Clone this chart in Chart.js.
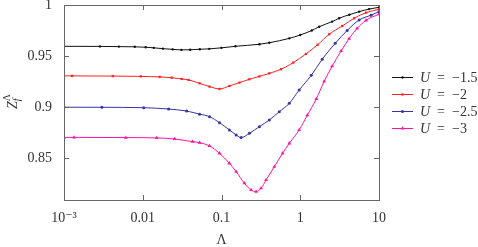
<!DOCTYPE html>
<html>
	<head>
		<title>Z_f vs Lambda</title>
		<style>
body {
	margin: 0;
	background-color: #ffffff;
}
		</style>
	</head>
	<body>
		<canvas id="zChart" width="478" height="247"></canvas>
		<script src="https://cdn.jsdelivr.net/npm/chart.js"></script>
		<script>
			// values
			const xTicks = [0.001, 0.01, 0.1, 1, 10];
			const xTickLabels = ['10\u207B\u00B3', '0.01', '0.1', '1', '10'];
			const yTicks = [0.85, 0.9, 0.95, 1];

			const seriesLabels = ['\u22121.5', '\u22122', '\u22122.5', '\u22123'];

			const lamA = [0.001, 0.00286, 0.00497, 0.00792, 0.0109, 0.0138, 0.018, 0.024, 0.031, 0.04, 0.053, 0.07, 0.1, 0.15, 0.303, 0.405, 0.726, 1.0, 1.4, 1.74, 2.54, 3.12, 4.2, 5.6, 7.5, 10];
			const zA = [0.9595, 0.9594, 0.9592, 0.959, 0.9586, 0.958, 0.9572, 0.9565, 0.956, 0.9561, 0.9566, 0.957, 0.958, 0.9595, 0.9615, 0.963, 0.9673, 0.9706, 0.975, 0.9787, 0.9837, 0.987, 0.9905, 0.9935, 0.996, 0.9977];

			const lamB = [0.001, 0.00126, 0.00417, 0.00944, 0.0164, 0.0233, 0.0312, 0.0382, 0.0527, 0.0705, 0.0944, 0.126, 0.169, 0.226, 0.303, 0.405, 0.57, 0.815, 1.18, 1.66, 2.33, 3.41, 4.83, 6.85, 10];
			const zB = [0.9305, 0.9305, 0.9303, 0.93, 0.9295, 0.9287, 0.9275, 0.9265, 0.9232, 0.92, 0.9177, 0.9206, 0.9239, 0.9272, 0.93, 0.933, 0.937, 0.9435, 0.952, 0.961, 0.9713, 0.9794, 0.987, 0.9925, 0.9958];

			const lamC = [0.001, 0.00303, 0.0103, 0.0213, 0.0361, 0.0527, 0.0705, 0.0944, 0.126, 0.1535, 0.1776, 0.226, 0.303, 0.405, 0.542, 0.726, 0.97, 1.38, 1.9, 2.78, 3.94, 5.59, 7.92, 10];
			const zC = [0.8998, 0.8997, 0.8993, 0.898, 0.896, 0.893, 0.8905, 0.8846, 0.8775, 0.8726, 0.87, 0.8742, 0.8807, 0.8873, 0.8954, 0.9036, 0.9167, 0.931, 0.9468, 0.9624, 0.975, 0.9853, 0.99, 0.9935];

			const lamD = [0.001, 0.00134, 0.0061, 0.015, 0.0254, 0.043, 0.0527, 0.0705, 0.0944, 0.126, 0.1535, 0.1954, 0.2376, 0.275, 0.318, 0.368, 0.469, 0.597, 0.726, 0.97, 1.23, 1.6, 2.01, 2.54, 3.31, 4.17, 5.27, 6.85, 10];
			const zD = [0.8702, 0.8702, 0.87, 0.8697, 0.8686, 0.866, 0.865, 0.8618, 0.8546, 0.8448, 0.8366, 0.8252, 0.8186, 0.817, 0.8203, 0.8284, 0.8415, 0.8546, 0.8644, 0.8775, 0.892, 0.908, 0.925, 0.94, 0.955, 0.967, 0.977, 0.985, 0.991];

			const colors = ['#111111', '#ff2222', '#3535a5', '#ff14a0'];
			const markers = ['circle', 'rect', 'circle', 'triangle'];
			const sizes = [1.2, 1.6, 1.5, 2.2];

			const toPoints = (xs, ys) => xs.map((x, i) => ({ x: x, y: ys[i] }));
			const allSeries = [[lamA, zA], [lamB, zB], [lamC, zC], [lamD, zD]];

			const serif = '"Liberation Serif", "DejaVu Serif", serif';
			const textColor = '#333333';
			const frameColor = '#666666';

			// frame with inward ticks on all four sides, axis titles, legend
			const frameTicks = {
				id: 'frameTicks',
				afterDraw(chart) {
					const c = chart.ctx;
					const a = chart.chartArea;
					const xs = chart.scales.x;
					const ys = chart.scales.y;
					c.save();
					c.strokeStyle = frameColor;
					c.lineWidth = 1;
					c.strokeRect(Math.round(a.left) + 0.5, Math.round(a.top) + 0.5, Math.round(a.right - a.left), Math.round(a.bottom - a.top));
					c.beginPath();
					xTicks.forEach(v => {
						const px = Math.round(xs.getPixelForValue(v)) + 0.5;
						c.moveTo(px, a.bottom); c.lineTo(px, a.bottom - 5);
						c.moveTo(px, a.top); c.lineTo(px, a.top + 5);
					});
					yTicks.forEach(v => {
						const py = Math.round(ys.getPixelForValue(v)) + 0.5;
						c.moveTo(a.left, py); c.lineTo(a.left + 5, py);
						c.moveTo(a.right, py); c.lineTo(a.right - 5, py);
					});
					c.stroke();

					c.fillStyle = textColor;
					c.textBaseline = 'middle';
					c.textAlign = 'center';
					c.font = '14px ' + serif;
					c.fillText('\u039B', (a.left + a.right) / 2, 240);

					c.save();
					c.translate(17, 109);
					c.rotate(-Math.PI / 2);
					c.textAlign = 'left';
					c.textBaseline = 'alphabetic';
					c.font = 'italic 14px ' + serif;
					c.fillText('Z', 0, 0);
					const zw = c.measureText('Z').width;
					c.font = 'italic 10px ' + serif;
					c.fillText('f', zw, 3);
					c.font = '10px ' + serif;
					c.fillText('\u039B', zw, -7);
					c.restore();

					const lx = a.right + 13;
					chart.data.datasets.forEach((ds, i) => {
						const ly = 77 + i * 17;
						c.strokeStyle = ds.borderColor;
						c.lineWidth = 1;
						c.beginPath();
						c.moveTo(lx, ly + 0.5); c.lineTo(lx + 21, ly + 0.5);
						c.stroke();
						c.fillStyle = ds.borderColor;
						Chart.helpers.drawPoint(c, { pointStyle: markers[i], radius: sizes[i], rotation: 0, borderWidth: 0 }, lx + 10.5, ly + 0.5);
						c.fillStyle = textColor;
						c.textAlign = 'left';
						c.textBaseline = 'middle';
						c.font = 'italic 14px ' + serif;
						c.fillText('U', lx + 28, ly + 1);
						const uw = c.measureText('U').width;
						c.font = '14px ' + serif;
						c.fillText('\u2002=\u2002' + seriesLabels[i], lx + 28 + uw, ly + 1);
					});
					c.restore();
				}
			};

			const chart = new Chart(document.getElementById('zChart').getContext('2d'), {
				type: 'line',
				data: {
					datasets: allSeries.map((s, i) => ({
						label: 'U = ' + seriesLabels[i],
						data: toPoints(s[0], s[1]),
						borderColor: colors[i],
						backgroundColor: colors[i],
						borderWidth: 1,
						pointStyle: markers[i],
						pointRadius: sizes[i],
						pointBorderWidth: 0,
						cubicInterpolationMode: 'monotone'
					}))
				},
				options: {
					responsive: false,
					animation: false,
					layout: { padding: { top: 5, right: 99, left: 0, bottom: 0 } },
					plugins: {
						legend: { display: false },
						tooltip: { enabled: false }
					},
					scales: {
						x: {
							type: 'logarithmic',
							min: 0.001,
							max: 10,
							grid: { display: false, drawTicks: false },
							border: { display: false },
							afterBuildTicks: s => { s.ticks = xTicks.map(v => ({ value: v })); },
							afterFit: s => { s.height = 47; s.paddingLeft = 0; s.paddingRight = 0; },
							ticks: {
								autoSkip: false,
								maxRotation: 0,
								padding: 10,
								color: textColor,
								font: { family: serif, size: 14 },
								callback: (v, i) => xTickLabels[i]
							}
						},
						y: {
							min: 0.8088,
							max: 1,
							grid: { display: false, drawTicks: false },
							border: { display: false },
							afterBuildTicks: s => { s.ticks = yTicks.map(v => ({ value: v })); },
							afterFit: s => { s.width = 64; s.paddingTop = 0; s.paddingBottom = 0; },
							ticks: {
								padding: 12,
								color: textColor,
								font: { family: serif, size: 14 },
								callback: v => String(v)
							}
						}
					}
				},
				plugins: [frameTicks]
			});
		</script>
	</body>
</html>
